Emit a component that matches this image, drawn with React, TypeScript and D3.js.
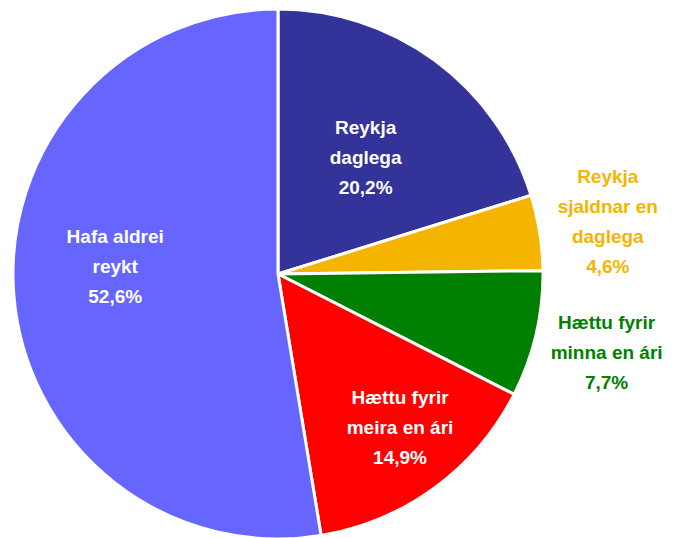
import React, { useEffect, useRef } from 'react';
import * as d3 from 'd3';

const categories = [
  ['Reykja', 'daglega'],
  ['Reykja', 'sjaldnar en', 'daglega'],
  ['Hættu fyrir', 'minna en ári'],
  ['Hættu fyrir', 'meira en ári'],
  ['Hafa aldrei', 'reykt'],
];
const values = [20.2, 4.6, 7.7, 14.9, 52.6];
const valueLabels = ['20,2%', '4,6%', '7,7%', '14,9%', '52,6%'];

const colors = ['#333399', '#F5B400', '#008000', '#FF0000', '#6666FF'];
const textColors = ['#FFFFFF', '#F5B400', '#008000', '#FFFFFF', '#FFFFFF'];
// label placement: distance from centre (share of radius) and turn from slice middle (deg)
const labelRadius = [0.55, 1.26, 1.275, 0.74, 0.615];
const labelTurn = [0.6, 0, 0.3, -2.3, 7.2];

const App: React.FC = () => {
  const svgRef = useRef<SVGSVGElement>(null);

  useEffect(() => {
    if (!svgRef.current) return;
    const svg = d3.select(svgRef.current);
    svg.selectAll('*').remove();

    const cx = 278;
    const cy = 274;
    const r = 265;

    const pie = d3.pie<number>().sort(null).value((d) => d);
    const arcs = pie(values);
    const arc = d3.arc<d3.PieArcDatum<number>>().innerRadius(0).outerRadius(r);

    const g = svg.append('g').attr('transform', `translate(${cx},${cy})`);

    g.selectAll('path.slice')
      .data(arcs)
      .join('path')
      .attr('class', 'slice')
      .attr('d', arc)
      .attr('fill', (_, i) => colors[i])
      .attr('stroke', '#FFFFFF')
      .attr('stroke-width', 3)
      .attr('stroke-linejoin', 'miter');

    const lineH = 30;
    arcs.forEach((a, i) => {
      const mid = (a.startAngle + a.endAngle) / 2 + (labelTurn[i] * Math.PI) / 180;
      const lr = r * labelRadius[i];
      const x = Math.sin(mid) * lr;
      const y = -Math.cos(mid) * lr;
      const lines = [...categories[i], valueLabels[i]];
      const top = y - ((lines.length - 1) * lineH) / 2;
      const t = g.append('text')
        .attr('text-anchor', 'middle')
        .attr('fill', textColors[i])
        .attr('font-family', '"Liberation Sans Narrow", "Arial Narrow", "Liberation Sans", Arial, sans-serif')
        .attr('font-weight', 'bold')
        .attr('font-size', 19);
      lines.forEach((l, k) => {
        t.append('tspan')
          .attr('x', x)
          .attr('y', top + k * lineH)
          .attr('dy', '0.35em')
          .text(l);
      });
    });
  }, []);

  return (
    <svg
      ref={svgRef}
      width={677}
      height={538}
      style={{ position: 'absolute', left: 0, top: 0, background: '#FFFFFF' }}
    />
  );
};

export default App;
